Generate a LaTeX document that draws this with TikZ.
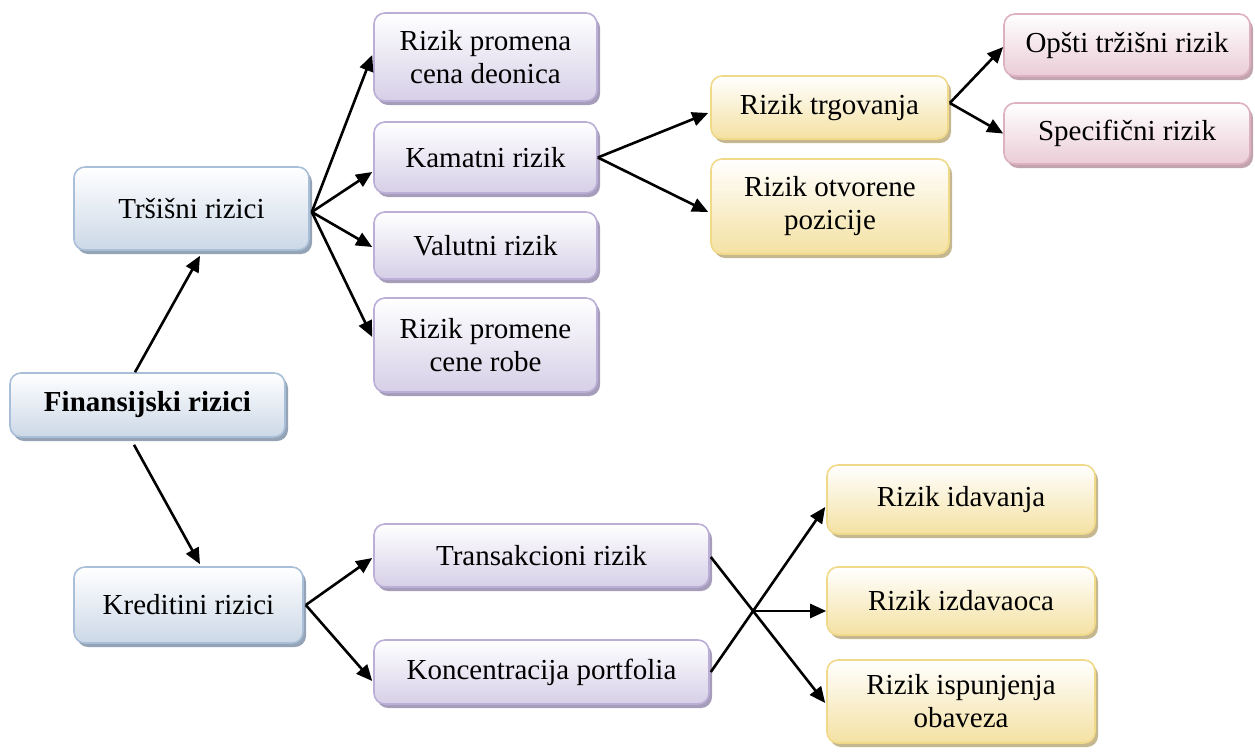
\documentclass[tikz,border=0pt]{standalone}
\usepackage{fontspec}
\setmainfont{Liberation Serif}
\usetikzlibrary{arrows.meta,shadows,intersections}

% box palettes: border, lower fill, shadow
\definecolor{bdBlue}{HTML}{A9BFD8}
\definecolor{fBlue}{HTML}{CCD8E7}
\definecolor{sBlue}{HTML}{94A3B5}
\definecolor{bdPurple}{HTML}{BBAFD7}
\definecolor{fPurple}{HTML}{D6CFE7}
\definecolor{sPurple}{HTML}{A59DBA}
\definecolor{bdYellow}{HTML}{F1D98A}
\definecolor{fYellow}{HTML}{F4E1A2}
\definecolor{sYellow}{HTML}{C5B78F}
\definecolor{bdPink}{HTML}{DDB1C1}
\definecolor{fPink}{HTML}{EACCD7}
\definecolor{sPink}{HTML}{C2A4AF}

\begin{document}
\begin{tikzpicture}[x=1pt,y=-1pt,
  box/.style={rounded corners=11pt, line width=1.6pt, align=center,
    inner sep=0pt, anchor=center, text=black,
    font=\fontsize{29}{33}\selectfont},
  bluebox/.style={box, draw=bdBlue, top color=white, bottom color=fBlue,
    drop shadow={shadow xshift=3pt, shadow yshift=-4pt, fill=sBlue, opacity=1}},
  purplebox/.style={box, draw=bdPurple, top color=white, bottom color=fPurple,
    drop shadow={shadow xshift=3pt, shadow yshift=-4pt, fill=sPurple, opacity=1}},
  yellowbox/.style={box, draw=bdYellow, top color=white, bottom color=fYellow,
    drop shadow={shadow xshift=3pt, shadow yshift=-4pt, fill=sYellow, opacity=1}},
  pinkbox/.style={box, draw=bdPink, top color=white, bottom color=fPink,
    drop shadow={shadow xshift=3pt, shadow yshift=-4pt, fill=sPink, opacity=1}},
  sz/.style 2 args={minimum width=#1pt, minimum height=#2pt},
  arr/.style={line width=2.6pt, -{Triangle[length=16pt,width=14pt]}}
]
\useasboundingbox (0,0) rectangle (1255,753);

% root and first level
\node[bluebox, sz={275}{64}, font=\fontsize{29}{33}\selectfont\bfseries]
  (fin) at (147.5,405) {Finansijski rizici};
\node[bluebox, sz={235}{83}] (trz) at (191.5,208.5) {Tršišni rizici};
\node[bluebox, sz={229}{76}] (kred) at (188.5,605) {Kreditini rizici};

% market risks
\node[purplebox, sz={223}{88}] (p1) at (485.5,57) {Rizik promena\\cena deonica};
\node[purplebox, sz={223}{71}] (p2) at (485.5,157.5) {Kamatni rizik};
\node[purplebox, sz={223}{67}] (p3) at (485.5,245.5) {Valutni rizik};
\node[purplebox, sz={223}{94}] (p4) at (485.5,345) {Rizik promene\\cene robe};

% interest rate risk
\node[yellowbox, sz={237}{63}] (y1) at (829.5,107.5) {Rizik trgovanja};
\node[yellowbox, sz={238}{95}] (y2) at (830,206.5) {Rizik otvorene\\pozicije};

% trading risk
\node[pinkbox, sz={246}{62}] (r1) at (1127,45) {Opšti tržišni rizik};
\node[pinkbox, sz={246}{61}] (r2) at (1127,133.5) {Specifični rizik};

% credit risks
\node[purplebox, sz={335}{63}] (t1) at (541.5,555.5) {Transakcioni rizik};
\node[purplebox, sz={335}{64}] (t2) at (541.5,672) {Koncentracija portfolia};

\node[yellowbox, sz={268}{69}] (c1) at (961,499.5) {Rizik idavanja};
\node[yellowbox, sz={268}{68}] (c2) at (961,601) {Rizik izdavaoca};
\node[yellowbox, sz={268}{83}] (c3) at (961,701.5) {Rizik ispunjenja\\obaveza};

% connectors
\draw[arr] ([xshift=-12.5pt]fin.north) -- ([xshift=8.5pt,yshift=-5pt]trz.south);
\draw[arr] ([xshift=-13.5pt,yshift=-7pt]fin.south) -- ([xshift=11.5pt,yshift=2pt]kred.north);

\draw[arr] ([xshift=2pt,yshift=-3.5pt]trz.east) -- ([xshift=-1pt,yshift=2pt]p1.west);
\draw[arr] ([xshift=2pt,yshift=-3.5pt]trz.east) -- ([xshift=-1pt,yshift=-14.5pt]p2.west);
\draw[arr] ([xshift=2pt,yshift=-3.5pt]trz.east) -- ([xshift=-1pt,yshift=-1.5pt]p3.west);
\draw[arr] ([xshift=2pt,yshift=-3.5pt]trz.east) -- ([xshift=-1pt,yshift=8pt]p4.west);

\draw[arr] (p2.east) -- ([xshift=-2pt,yshift=-5.5pt]y1.west);
\draw[arr] (p2.east) -- ([xshift=-2pt,yshift=-5.5pt]y2.west);

\draw[arr] ([xshift=1pt,yshift=4.5pt]y1.east) -- ([yshift=-2pt]r1.west);
\draw[arr] ([xshift=1pt,yshift=4.5pt]y1.east) -- (r2.west);

\draw[arr] ([xshift=2pt]kred.east) -- ([xshift=-1pt,yshift=-2.5pt]t1.west);
\draw[arr] ([xshift=2pt]kred.east) -- ([xshift=-1pt,yshift=-9pt]t2.west);

\draw[arr, name path=la] ([xshift=1pt,yshift=-1.5pt]t1.east) -- ([xshift=-1pt,yshift=-1.5pt]c3.west);
\draw[arr, name path=lb] ([xshift=1pt]t2.east) -- ([xshift=-1pt,yshift=-7.5pt]c1.west);
\path[name intersections={of=la and lb, by=xc}];
\draw[arr] (xc) -- (xc -| c2.west);
\end{tikzpicture}
\end{document}
